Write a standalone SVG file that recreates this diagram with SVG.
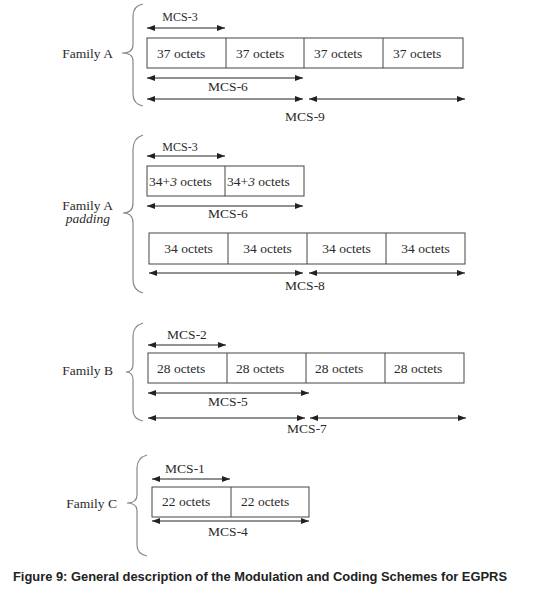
<svg xmlns="http://www.w3.org/2000/svg" width="544" height="600" viewBox="0 0 544 600">
<defs>
<marker id="ah" viewBox="0 0 8 6" refX="8" refY="3" markerWidth="8" markerHeight="6" markerUnits="userSpaceOnUse" orient="auto-start-reverse">
<path d="M0,0 L8,3 L0,6 Z" fill="#222"/>
</marker>
<style>
.t{font-family:"Liberation Serif","Times New Roman",serif;font-size:13.5px;fill:#2a2a2a}
.s{font-family:"Liberation Serif","Times New Roman",serif;font-size:12px;fill:#2a2a2a}
.c{text-anchor:middle}
.e{text-anchor:end}
.box{fill:#fff;stroke:#444;stroke-width:1}
.div{stroke:#444;stroke-width:1}
.ar{stroke:#222;stroke-width:1;fill:none;marker-start:url(#ah);marker-end:url(#ah)}
.br{fill:none;stroke:#888;stroke-width:1.2}
.cap{font-family:"Liberation Sans",Arial,sans-serif;font-weight:bold;font-size:12px;fill:#222}
</style>
</defs>
<rect width="544" height="600" fill="#fff"/>

<g id="familyA">
<path class="br" d="M143,4 Q133,6 133,16 L133,45 Q133,53 122,53 Q133,53 133,61 L133,94 Q133,104 143,106"/>
<text class="t e" x="113" y="57.5">Family A</text>
<rect class="box" x="147" y="38" width="316" height="30"/>
<line class="div" x1="226" y1="38" x2="226" y2="68"/>
<line class="div" x1="304" y1="38" x2="304" y2="68"/>
<line class="div" x1="383" y1="38" x2="383" y2="68"/>
<text class="t" x="157" y="57.5">37 octets</text>
<text class="t" x="236" y="57.5">37 octets</text>
<text class="t" x="314" y="57.5">37 octets</text>
<text class="t" x="393" y="57.5">37 octets</text>
<text class="s c" x="180" y="21">MCS-3</text>
<text class="t c" x="228" y="90.5">MCS-6</text>
<text class="t c" x="305" y="120.5">MCS-9</text>
</g>

<g id="familyApadding">
<path class="br" d="M143,135 Q133,138 133,150 L133,203 Q133,213 123,213 Q133,213 133,223 L133,280 Q133,290 143,293"/>
<text class="t e" x="113" y="209.5">Family A</text>
<text class="t e" x="110" y="223" font-style="italic">padding</text>
<rect class="box" x="147" y="166" width="157" height="30"/>
<line class="div" x1="225" y1="166" x2="225" y2="196"/>
<text class="t" x="149" y="185.5">34+<tspan font-style="italic">3</tspan> octets</text>
<text class="t" x="227" y="185.5">34+<tspan font-style="italic">3</tspan> octets</text>
<rect class="box" x="149" y="233" width="316" height="31"/>
<line class="div" x1="228" y1="233" x2="228" y2="264"/>
<line class="div" x1="307" y1="233" x2="307" y2="264"/>
<line class="div" x1="386" y1="233" x2="386" y2="264"/>
<text class="t c" x="188.5" y="253">34 octets</text>
<text class="t c" x="267.5" y="253">34 octets</text>
<text class="t c" x="346.5" y="253">34 octets</text>
<text class="t c" x="425.5" y="253">34 octets</text>
<text class="s c" x="180" y="150.5">MCS-3</text>
<text class="t c" x="228" y="217.5">MCS-6</text>
<text class="t c" x="305" y="289.5">MCS-8</text>
</g>

<g id="familyB">
<path class="br" d="M143,323 Q133,326 133,336 L133,364 Q133,372 126,372 Q133,372 133,380 L133,410 Q133,419 143,421"/>
<text class="t e" x="113" y="374.5">Family B</text>
<rect class="box" x="148" y="353" width="316" height="30"/>
<line class="div" x1="227" y1="353" x2="227" y2="383"/>
<line class="div" x1="306" y1="353" x2="306" y2="383"/>
<line class="div" x1="385" y1="353" x2="385" y2="383"/>
<text class="t" x="157" y="372.5">28 octets</text>
<text class="t" x="236" y="372.5">28 octets</text>
<text class="t" x="315" y="372.5">28 octets</text>
<text class="t" x="394" y="372.5">28 octets</text>
<text class="t c" x="187" y="338.5">MCS-2</text>
<text class="t c" x="228" y="405.5">MCS-5</text>
<text class="t c" x="307" y="432.5">MCS-7</text>
</g>

<g id="familyC">
<path class="br" d="M147,455 Q137,458 137,468 L137,495 Q137,503 127,503 Q137,503 137,511 L137,545 Q137,554 147,556"/>
<text class="t e" x="117" y="507.5">Family C</text>
<rect class="box" x="152" y="487" width="157" height="30"/>
<line class="div" x1="231" y1="487" x2="231" y2="517"/>
<text class="t" x="162" y="505.5">22 octets</text>
<text class="t" x="241" y="505.5">22 octets</text>
<text class="t c" x="185" y="472.5">MCS-1</text>
<text class="t c" x="228" y="535.5">MCS-4</text>
</g>

<g id="connectors">
<line class="ar" x1="147" y1="28" x2="225" y2="28"/>
<line class="ar" x1="147" y1="78" x2="303" y2="78"/>
<line class="ar" x1="147" y1="99" x2="303" y2="99"/>
<line class="ar" x1="309" y1="99" x2="465" y2="99"/>
<line class="ar" x1="147" y1="156" x2="225" y2="156"/>
<line class="ar" x1="147" y1="206" x2="303" y2="206"/>
<line class="ar" x1="149" y1="273" x2="303" y2="273"/>
<line class="ar" x1="309" y1="273" x2="465" y2="273"/>
<line class="ar" x1="148" y1="345" x2="226" y2="345"/>
<line class="ar" x1="148" y1="393" x2="309" y2="393"/>
<line class="ar" x1="148" y1="418" x2="305" y2="418"/>
<line class="ar" x1="310" y1="418" x2="466" y2="418"/>
<line class="ar" x1="152" y1="479" x2="230" y2="479"/>
<line class="ar" x1="152" y1="521" x2="309" y2="521"/>
</g>

<text class="cap" x="13" y="581" textLength="494" lengthAdjust="spacingAndGlyphs">Figure 9: General description of the Modulation and Coding Schemes for EGPRS</text>
</svg>
